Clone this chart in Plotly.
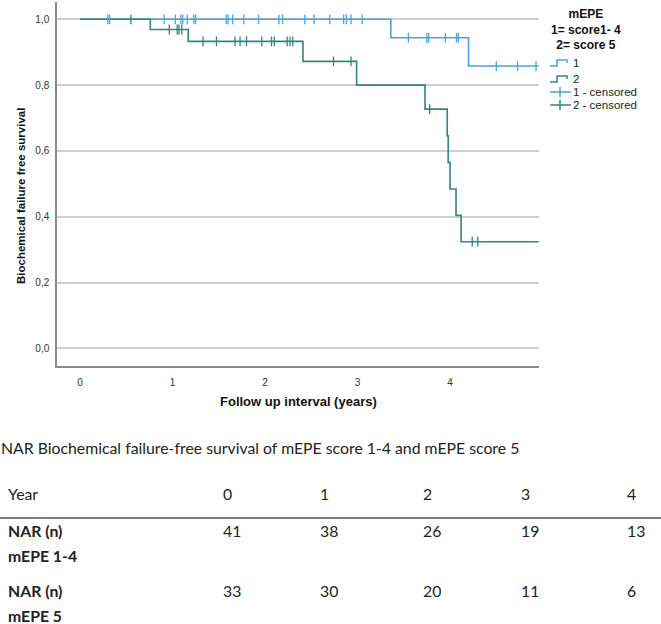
import plotly.graph_objects as go

# ---------------- data ----------------
s1_times = [0, 3.36, 4.20]
s1_surv = [1.0, 0.944, 0.858]
s1_end = 4.96
s1_censored = [0.30, 0.32, 0.91, 1.03, 1.09, 1.11, 1.16, 1.23, 1.25, 1.58, 1.60, 1.65,
               1.77, 1.93, 2.15, 2.19, 2.43, 2.53, 2.70, 2.85, 2.88, 2.93, 3.05,
               3.55, 3.75, 3.77, 3.95, 4.07, 4.09, 4.50, 4.73, 4.93]

s2_times = [0, 0.76, 1.17, 2.41, 2.99, 3.73, 3.97, 3.98, 4.00, 4.065, 4.12]
s2_surv = [1.0, 0.969, 0.933, 0.872, 0.80, 0.727, 0.646, 0.565, 0.484, 0.404, 0.324]
s2_end = 4.96
s2_censored = [0.55, 0.965, 1.05, 1.07, 1.10, 1.33, 1.475, 1.676, 1.73, 1.80, 1.965,
               2.07, 2.10, 2.24, 2.27, 2.30, 2.74, 2.93, 3.78, 4.24, 4.30]

x_ticks = [0, 1, 2, 3, 4]
y_ticks = [0.0, 0.2, 0.4, 0.6, 0.8, 1.0]

table_years = [0, 1, 2, 3, 4]
nar_group1 = [41, 38, 26, 19, 13]
nar_group2 = [33, 30, 20, 11, 6]

legend_title = ["mEPE", "1= score1- 4", "2= score 5"]
legend_labels = ["1", "2", "1 - censored", "2 - censored"]

BLUE = "#4aa3df"
TEAL = "#2f8580"

# ---------------- helpers ----------------
W, H = 661, 624
L, R, T, B = 57, 539, 2, 366


def px(x):
    return (x - L) / (R - L)


def py(y):
    return (B - y) / (B - T)


def step_value(times, surv, t):
    v = surv[0]
    for ti, si in zip(times, surv):
        if ti <= t:
            v = si
    return v


def note(text, x, y, size, xanchor="center", color="#222", family="Liberation Sans, Arial",
         angle=0):
    return dict(text=text, x=px(x), y=py(y), xref="paper", yref="paper", showarrow=False,
                xanchor=xanchor, yanchor="middle", textangle=angle, borderpad=0,
                font=dict(family=family, size=size, color=color))


fig = go.Figure()

fig.add_trace(go.Scatter(x=s1_times + [s1_end], y=s1_surv + [s1_surv[-1]], mode="lines",
                         line=dict(color=BLUE, width=1.6, shape="hv"), showlegend=False,
                         hoverinfo="skip"))
fig.add_trace(go.Scatter(x=s2_times + [s2_end], y=s2_surv + [s2_surv[-1]], mode="lines",
                         line=dict(color=TEAL, width=1.6, shape="hv"), showlegend=False,
                         hoverinfo="skip"))
fig.add_trace(go.Scatter(x=s1_censored, y=[step_value(s1_times, s1_surv, t) for t in s1_censored],
                         mode="markers",
                         marker=dict(symbol="line-ns", size=7, line=dict(color=BLUE, width=1.3)),
                         showlegend=False, hoverinfo="skip"))
fig.add_trace(go.Scatter(x=s2_censored, y=[step_value(s2_times, s2_surv, t) for t in s2_censored],
                         mode="markers",
                         marker=dict(symbol="line-ns", size=7, line=dict(color=TEAL, width=1.3)),
                         showlegend=False, hoverinfo="skip"))

annotations = []
shapes = []

# axis titles
annotations.append(note("<b>Follow up interval (years)</b>", 298, 401, 13, color="#111"))
annotations.append(note("<b>Biochemical failure free survival</b>", 21, 196, 11.5, color="#111",
                        angle=-90))

# legend
annotations.append(note("<br>".join("<b>" + s + "</b>" for s in legend_title), 586, 30, 12,
                        color="#111"))
leg_y = [63, 79, 92, 105]
leg_col = [BLUE, TEAL, BLUE, TEAL]
for i, lab in enumerate(legend_labels):
    annotations.append(note(lab, 572, leg_y[i], 11.5, xanchor="left"))
    yy = leg_y[i]
    if i < 2:
        path = "M {} {} L {} {} L {} {} L {} {} L {} {}".format(
            px(550), py(yy + 3), px(557), py(yy + 3), px(557), py(yy - 3),
            px(567), py(yy - 3), px(567), py(yy))
        shapes.append(dict(type="path", path=path, xref="paper", yref="paper",
                           line=dict(color=leg_col[i], width=1.5)))
    else:
        shapes.append(dict(type="line", x0=px(550), x1=px(571), y0=py(yy), y1=py(yy),
                           xref="paper", yref="paper", line=dict(color=leg_col[i], width=1.5)))
        shapes.append(dict(type="line", x0=px(560), x1=px(560), y0=py(yy - 5), y1=py(yy + 5),
                           xref="paper", yref="paper", line=dict(color=leg_col[i], width=1.5)))

# table below
TF = "Lato, Open Sans, sans-serif"
TS = 15.8
annotations.append(note("NAR Biochemical failure-free survival of mEPE score 1-4 and mEPE score 5",
                        0, 447, TS, xanchor="left", family=TF))
col_x = [222, 319, 422, 520, 626]
annotations.append(note("Year", 7, 493, TS, xanchor="left", family=TF))
for cx, yr, n1, n2 in zip(col_x, table_years, nar_group1, nar_group2):
    annotations.append(note(str(yr), cx, 493, TS, xanchor="left", family=TF))
    annotations.append(note(str(n1), cx, 530, TS, xanchor="left", family=TF))
    annotations.append(note(str(n2), cx, 590, TS, xanchor="left", family=TF))
for text, yy in [("NAR (n)", 530), ("mEPE 1-4", 555), ("NAR (n)", 590), ("mEPE 5", 615)]:
    annotations.append(note("<b>" + text + "</b>", 7, yy, TS, xanchor="left", family=TF))
shapes.append(dict(type="line", x0=px(0), x1=px(661), y0=py(518), y1=py(518), xref="paper",
                   yref="paper", line=dict(color="#555", width=1.5)))

fig.update_layout(
    width=W, height=H,
    margin=dict(l=L, r=W - R, t=T, b=H - B),
    plot_bgcolor="white", paper_bgcolor="white",
    separators=", ",
    showlegend=False,
    xaxis=dict(range=[-0.249, 4.962], tickvals=x_ticks, showgrid=False, zeroline=False,
               showline=True, linecolor="#8a8a8a", linewidth=1.5, ticks="",
               ticklabelstandoff=6,
               tickfont=dict(family="Liberation Sans, Arial", size=10, color="#333")),
    yaxis=dict(range=[-0.0538, 1.0526], tickvals=y_ticks, tickformat=".1f", showgrid=True,
               gridcolor="#cfcfcf", gridwidth=1.5, zeroline=False, showline=True,
               linecolor="#8a8a8a", linewidth=1.5, ticks="", ticklabelstandoff=4,
               tickfont=dict(family="Liberation Sans, Arial", size=10, color="#333")),
    annotations=annotations,
    shapes=shapes,
)

fig.write_html("out.html")
